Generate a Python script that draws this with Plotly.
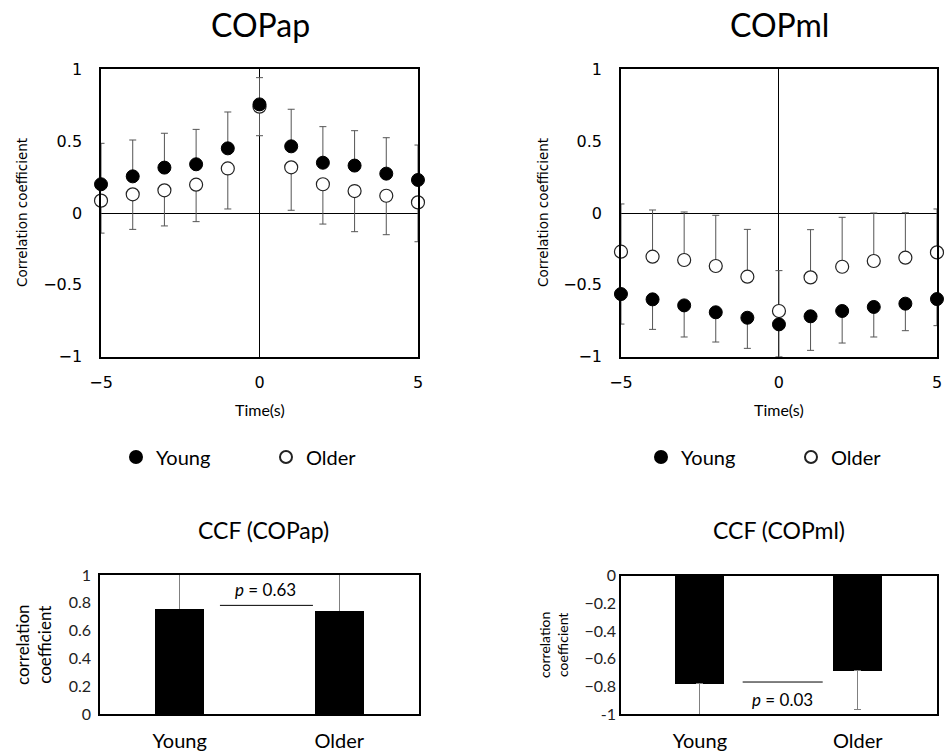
import plotly.graph_objects as go

# ---------------- data ----------------
lags = [-5, -4, -3, -2, -1, 0, 1, 2, 3, 4, 5]

ap_young = [0.20, 0.255, 0.316, 0.339, 0.45, 0.756, 0.464, 0.35, 0.33, 0.274, 0.23]
ap_young_sd = [0.285, 0.253, 0.239, 0.243, 0.253, 0.186, 0.258, 0.251, 0.243, 0.25, 0.243]
ap_older = [0.086, 0.13, 0.158, 0.197, 0.31, 0.74, 0.318, 0.2, 0.153, 0.12, 0.074]
ap_older_sd = [0.226, 0.244, 0.248, 0.257, 0.282, 0.202, 0.299, 0.277, 0.283, 0.271, 0.274]

ml_young = [-0.564, -0.601, -0.643, -0.691, -0.729, -0.775, -0.719, -0.682, -0.654, -0.631, -0.599]
ml_young_sd = [0.209, 0.209, 0.22, 0.207, 0.213, 0.225, 0.237, 0.223, 0.209, 0.188, 0.185]
ml_older = [-0.269, -0.304, -0.327, -0.369, -0.443, -0.682, -0.448, -0.374, -0.334, -0.311, -0.274]
ml_older_sd = [0.332, 0.325, 0.334, 0.353, 0.329, 0.281, 0.332, 0.344, 0.334, 0.313, 0.302]

groups = ["Young", "Older"]
ccf_ap = [0.758, 0.739]
ccf_ap_sd = [0.26, 0.28]
ccf_ml = [-0.783, -0.687]
ccf_ml_sd = [0.25, 0.284]
p_ap = "0.63"
p_ml = "0.03"

ml_ticktext = ["0", "\u22120.2", "\u22120.4", "\u22120.6", "\u22120.8", "-1"]
ml_tickvals = [0, -0.2, -0.4, -0.6, -0.8, -1]
ap_tickvals = [0, 0.2, 0.4, 0.6, 0.8, 1]
ap_ticktext = ["0", "0.2", "0.4", "0.6", "0.8", "1"]

# ---------------- styles ----------------
CAL = "Lato, 'Open Sans', sans-serif"
DJV = "'DejaVu Sans', Verdana, sans-serif"
ERR_TOP = "#555555"
ERR_BOT = "#808080"

fig = go.Figure()

def add_lag_pair(young, ysd, older, osd, xa, ya, legend, young_up):
    # older first so that young marker sits on top where they overlap
    fig.add_trace(go.Scatter(
        x=lags, y=older, mode="markers", name="Older", legend=legend, legendrank=2,
        xaxis=xa, yaxis=ya, cliponaxis=False,
        marker=dict(size=13, color="white", line=dict(color="#222222", width=1.2)),
        error_y=dict(type="data", symmetric=False,
                     array=(osd if not young_up else [0] * len(osd)),
                     arrayminus=([0] * len(osd) if not young_up else osd),
                     color=ERR_TOP, thickness=1, width=3.5),
    ))
    fig.add_trace(go.Scatter(
        x=lags, y=young, mode="markers", name="Young", legend=legend, legendrank=1,
        xaxis=xa, yaxis=ya, cliponaxis=False,
        marker=dict(size=13, color="black", line=dict(color="black", width=1)),
        error_y=dict(type="data", symmetric=False,
                     array=(ysd if young_up else [0] * len(ysd)),
                     arrayminus=([0] * len(ysd) if young_up else ysd),
                     color=ERR_TOP, thickness=1, width=3.5),
    ))

add_lag_pair(ap_young, ap_young_sd, ap_older, ap_older_sd, "x", "y", "legend", True)
add_lag_pair(ml_young, ml_young_sd, ml_older, ml_older_sd, "x2", "y2", "legend2", False)

# bar charts
fig.add_trace(go.Bar(
    x=[0, 1], y=ccf_ap, width=0.31, marker=dict(color="black", line=dict(width=0)),
    xaxis="x3", yaxis="y3", showlegend=False,
    error_y=dict(type="data", symmetric=False, array=ccf_ap_sd, arrayminus=[0, 0],
                 color=ERR_BOT, thickness=1, width=0),
))
fig.add_trace(go.Bar(
    x=[0, 1], y=ccf_ml, width=0.31, marker=dict(color="black", line=dict(width=0)),
    xaxis="x4", yaxis="y4", showlegend=False,
    error_y=dict(type="data", symmetric=False, array=[0, 0], arrayminus=ccf_ml_sd,
                 color=ERR_BOT, thickness=1, width=3.5),
))

# ---------------- axes ----------------
top_y = [0.5282, 0.9083]
box = dict(showline=True, mirror=True, linecolor="black", linewidth=1.5, showgrid=False,
           automargin=False)

lag_x = dict(range=[-5, 5], tickvals=[-5, 0, 5], zeroline=True, zerolinecolor="black",
             zerolinewidth=1, ticks="outside", ticklen=10, tickcolor="rgba(0,0,0,0)",
             tickfont=dict(family=DJV, size=16, color="black"), **box)
lag_y = dict(range=[-1, 1], tickvals=[-1, -0.5, 0, 0.5, 1], zeroline=True,
             zerolinecolor="black", zerolinewidth=1, ticks="outside", ticklen=14,
             tickcolor="rgba(0,0,0,0)", tickfont=dict(family=DJV, size=16, color="black"),
             **box)

fig.update_layout(
    xaxis=dict(domain=[0.1069, 0.4423], anchor="y", **lag_x),
    yaxis=dict(domain=top_y, anchor="x", **lag_y),
    xaxis2=dict(domain=[0.6571, 0.9915], anchor="y2", **lag_x),
    yaxis2=dict(domain=top_y, anchor="x2", **lag_y),
    xaxis3=dict(domain=[0.1058, 0.4434], anchor="y3", range=[-0.5, 1.5], tickvals=[0, 1],
                ticktext=groups, zeroline=False, ticks="outside", ticklen=8,
                tickcolor="rgba(0,0,0,0)", tickfont=dict(family=CAL, size=20, color="black"),
                **box),
    yaxis3=dict(domain=[0.0552, 0.2394], anchor="x3", range=[0, 1], tickvals=ap_tickvals,
                ticktext=ap_ticktext, zeroline=False, ticks="outside", ticklen=4,
                tickcolor="rgba(0,0,0,0)",
                tickfont=dict(family=CAL, size=16, color="#222222"), **box),
    xaxis4=dict(domain=[0.6571, 0.9912], anchor="y4", range=[-0.5, 1.5], tickvals=[0, 1],
                ticktext=groups, zeroline=False, ticks="outside", ticklen=8,
                tickcolor="rgba(0,0,0,0)", side="bottom",
                tickfont=dict(family=CAL, size=20, color="black"), **box),
    yaxis4=dict(domain=[0.0556, 0.2385], anchor="x4", range=[-1, 0], tickvals=ml_tickvals,
                ticktext=ml_ticktext, zeroline=False, ticks="",
                tickfont=dict(family=CAL, size=16, color="#222222"), **box),
)

# ---------------- legends ----------------
leg_common = dict(orientation="h", font=dict(family=CAL, size=20, color="black"),
                  bgcolor="rgba(0,0,0,0)", entrywidth=105, entrywidthmode="pixels",
                  itemsizing="constant", xanchor="left", yanchor="middle",
                  traceorder="normal")
fig.update_layout(
    legend=dict(x=116 / 945, y=1 - 457 / 756, **leg_common),
    legend2=dict(x=641 / 945, y=1 - 457 / 756, **leg_common),
)

# ---------------- texts ----------------
ann = []
def txt(x, y, s, size, family=CAL, angle=0, **kw):
    ann.append(dict(x=x / 945, y=1 - y / 756, xref="paper", yref="paper", text=s,
                    showarrow=False, textangle=angle, xanchor="center", yanchor="middle",
                    font=dict(family=family, size=size, color="black"), **kw))

txt(260, 25, "COPap", 32)
txt(779, 25, "COPml", 32)
txt(263, 530, "CCF (COPap)", 23)
txt(779, 530, "CCF (COPml)", 23)
txt(260, 409, "Time(s)", 16)
txt(779, 409, "Time(s)", 16)
txt(22, 213, "Correlation coefficient", 13.5, family=DJV, angle=-90)
txt(543, 213, "Correlation coefficient", 13.5, family=DJV, angle=-90)
txt(33, 645, "correlation<br>coefficient", 17, angle=-90)
txt(553, 645, "correlation<br>coefficient", 14, angle=-90)

# p-value annotations (data coordinates)
ann.append(dict(x=0.54, y=0.895, xref="x3", yref="y3", text="<i>p</i> = " + p_ap,
                showarrow=False, font=dict(family=CAL, size=17, color="black")))
ann.append(dict(x=0.525, y=-0.894, xref="x4", yref="y4", text="<i>p</i> = " + p_ml,
                showarrow=False, font=dict(family=CAL, size=17, color="black")))
fig.update_layout(annotations=ann)

fig.update_layout(shapes=[
    dict(type="line", xref="x3", yref="y3", x0=0.252, x1=0.835, y0=0.782, y1=0.782,
         line=dict(color="black", width=1)),
    dict(type="line", xref="x4", yref="y4", x0=0.271, x1=0.778, y0=-0.769, y1=-0.769,
         line=dict(color="black", width=1)),
])

fig.update_layout(width=945, height=756,
                  margin=dict(l=0, r=0, t=0, b=0, pad=0, autoexpand=False),
                  paper_bgcolor="white", plot_bgcolor="white", bargap=0)

fig.write_html("out.html", config={"displayModeBar": False},
               post_script="document.body.style.margin='0';"
                           "document.body.style.overflow='hidden';")
